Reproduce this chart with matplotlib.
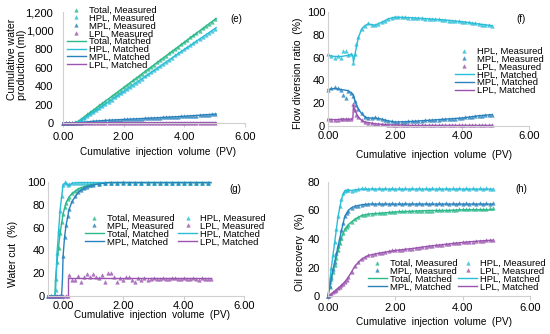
import matplotlib
matplotlib.use('Agg')
import matplotlib.pyplot as plt
from matplotlib.lines import Line2D

plt.rcParams['font.family'] = ['Liberation Sans', 'DejaVu Sans']

# colours of the four series
C_TOT = '#2bb88a'
C_HPL = '#29bdd8'
C_MPL = '#2a82bd'
C_LPL = '#9a55ae'

X_LABEL = 'Cumulative  injection  volume  (PV)'
X_TICKS = [0, 2, 4, 6]
X_TICKLABELS = ['0.00', '2.00', '4.00', '6.00']

# (e) cumulative water production, ml
pv_e = [0.0, 0.1, 0.2, 0.3, 0.4, 0.5, 0.6, 0.7, 0.8, 0.9, 1.0, 1.1, 1.2, 1.3, 1.4, 1.5, 1.6,
        1.7, 1.8, 1.9, 2.0, 2.1, 2.2, 2.3, 2.4, 2.5, 2.6, 2.7, 2.8, 2.9, 3.0, 3.1, 3.2, 3.3,
        3.4, 3.5, 3.6, 3.7, 3.8, 3.9, 4.0, 4.1, 4.2, 4.3, 4.4, 4.5, 4.6, 4.7, 4.8, 4.9, 5.0]
tot_e = [0, 1, 2, 3, 6, 20, 44, 69, 94, 118, 142, 167, 191, 215, 240, 264, 289, 313, 337,
         362, 386, 411, 435, 460, 484, 509, 533, 558, 582, 607, 631, 656, 680, 705, 729,
         754, 778, 803, 827, 852, 876, 901, 925, 950, 974, 999, 1023, 1048, 1072, 1097, 1121]
hpl_e = [0, 0, 0, 0, 2, 15, 36, 57, 78, 99, 120, 143, 164, 186, 208, 230, 253, 276, 298,
         321, 344, 367, 389, 413, 435, 459, 481, 504, 526, 550, 572, 594, 616, 641, 662,
         685, 707, 730, 753, 776, 798, 821, 843, 866, 888, 911, 933, 956, 977, 1000, 1021]
mpl_e = [0, 1, 1, 1, 2, 3, 5, 9, 13, 16, 19, 21, 24, 26, 28, 30, 32, 33, 35, 37, 38, 40,
         42, 43, 45, 46, 48, 50, 52, 53, 55, 57, 59, 60, 62, 64, 66, 68, 69, 71, 73, 75, 77,
         79, 81, 83, 85, 87, 90, 92, 95]
lpl_e = [0, 1, 1, 2, 2, 2, 3, 3, 3, 3, 3, 3, 3, 3, 4, 4, 4, 4, 4, 4, 4, 4, 4, 4, 4, 4, 4,
         4, 4, 4, 4, 4, 4, 4, 5, 5, 5, 5, 5, 5, 5, 5, 5, 5, 5, 5, 5, 5, 5, 5, 5]
pv_e_fit = [0.0, 0.3, 0.4, 0.5, 0.6, 0.8, 1.0, 1.5, 2.0, 3.0, 4.0, 5.05]
tot_e_fit = [0, 2, 6, 18, 42, 92, 140, 262, 384, 629, 874, 1130]
hpl_e_fit = [0, 0, 2, 14, 35, 77, 119, 228, 342, 570, 796, 1030]
mpl_e_fit = [0, 1, 2, 3, 5, 13, 19, 30, 38, 55, 73, 97]
lpl_e_fit = [0, 1, 2, 2, 3, 3, 3, 4, 4, 4, 5, 5]

# (f) flow diversion ratio, %
pv_f = [0.0, 0.1, 0.2, 0.3, 0.4, 0.45, 0.55, 0.6, 0.7, 0.75, 0.8, 0.85, 0.9, 1.0, 1.1, 1.2,
        1.3, 1.4, 1.5, 1.6, 1.7, 1.8, 1.9, 2.0, 2.1, 2.2, 2.3, 2.4, 2.5, 2.6, 2.7, 2.8, 2.9,
        3.0, 3.1, 3.2, 3.3, 3.4, 3.5, 3.6, 3.7, 3.8, 3.9, 4.0, 4.1, 4.2, 4.3, 4.4, 4.5, 4.6,
        4.7, 4.8, 4.9]
hpl_f = [63, 61, 60, 61, 60, 66, 66, 62, 63, 55, 63, 72, 78, 85, 88, 90, 89, 88.5, 89.5,
         91, 92.5, 94, 95, 96, 95.5, 95.5, 95.5, 95, 95, 95, 94.5, 94.5, 94, 94, 94, 93.5,
         93.5, 93, 93, 92.5, 92.5, 92, 92, 91.5, 91, 91, 90.5, 90, 89.5, 89, 89, 88.5, 88]
mpl_f = [32, 33, 34, 33, 32, 27, 25, 31, 29, 26, 22, 18, 15, 11, 8, 7, 7, 7.5, 7, 6, 5,
         4.5, 4, 3.5, 3.5, 3.5, 3.5, 4, 4, 4, 4.5, 4.5, 5, 5, 5, 5.5, 5.5, 6, 6, 6, 6.5,
         6.5, 7, 7, 7.5, 8, 8, 8.5, 9, 9, 9.5, 10, 10]
lpl_f = [6, 5, 5, 5.5, 6, 6, 6, 6, 6, 19, 14, 10, 8, 5, 3.5, 3, 2.5, 2, 2, 1.5, 1.5, 1, 1,
         1, 1, 0.5, 0.5, 0.5, 0.5, 0.5, 0.5, 0.5, 0.5, 0.5, 1, 0.5, 0.5, 0.5, 1, 0.5, 0.5,
         0.5, 0.5, 1, 0.5, 0.5, 0.5, 0.5, 0.5, 0.5, 0.5, 0.5, 0.5]
pv_f_fit = [0.0, 0.2, 0.4, 0.6, 0.7, 0.74, 0.76, 0.8, 0.9, 1.0, 1.1, 1.2, 1.4, 1.6, 1.8,
            2.0, 2.5, 3.0, 3.5, 4.0, 4.5, 4.9]
hpl_f_fit = [62, 61, 61, 62, 63, 62, 56, 62, 77, 85, 88, 89.5, 88.5, 91, 94, 95.5, 95, 94,
             93, 91.5, 89.5, 88]
mpl_f_fit = [32, 33, 32, 31, 29, 28, 27, 22, 15, 11, 8, 7, 7, 6, 4.5, 3.5, 4, 5, 6, 7, 9, 10]
lpl_f_fit = [6, 5.5, 6, 6, 6, 6, 18, 14, 8, 5, 3.5, 3, 2, 1.5, 1, 1, 0.5, 0.5, 0.5, 0.5,
             0.5, 0.5]

# (g) water cut, %  (x read against the printed tick labels)
pv_g = [-0.5, -0.4, -0.3, -0.25, -0.2, -0.15, -0.1, -0.05, 0.0, 0.05, 0.1, 0.15, 0.2, 0.3,
        0.4, 0.5, 0.6, 0.7, 0.8, 0.9, 1.0, 1.2, 1.4, 1.6, 1.8, 2.0, 2.2, 2.4, 2.6, 2.8, 3.0,
        3.2, 3.4, 3.6, 3.8, 4.0, 4.2, 4.4, 4.6, 4.8]
tot_g = [0, 0, 0, 15, 30, 42, 55, 65, 72, 78, 82, 85, 87, 90, 92, 94, 95, 96, 97, 97.5, 98,
         98.5, 99, 99.5, 99.5, 100, 99.5, 99.5, 99.5, 99.5, 99.5, 99.5, 99.5, 99.5, 99.5,
         99.5, 99.5, 99.5, 99.5, 99.5]
hpl_g = [0, 0, 0, 5, 38, 58, 75, 88, 97, 100, 99, 97, 98, 99, 99.5, 99.5, 99.5, 99.5, 99.5,
         99.5, 99.5, 99.5, 99.5, 99.5, 99.5, 99.5, 99.5, 99.5, 99.5, 99.5, 99.5, 99.5, 99.5,
         99.5, 99.5, 99.5, 99.5, 99.5, 99.5, 99.5]
mpl_g = [0, 0, 0, 0, 0, 0, 0, 0, 35, 52, 62, 70, 76, 83, 88, 91, 93, 95, 96, 97, 97.5, 98.5,
         99, 99.5, 99.5, 99.5, 99.5, 99.5, 99.5, 99.5, 99.5, 99.5, 99.5, 99.5, 99.5, 99.5,
         99.5, 99.5, 99.5, 99.5]
pv_g_lpl = [-0.5, -0.4, -0.3, -0.2, -0.1, 0.0, 0.1, 0.15, 0.2, 0.3, 0.4, 0.5, 0.6, 0.7,
            0.8, 0.9, 1.0, 1.1, 1.2, 1.3, 1.4, 1.5, 1.6, 1.7, 1.8, 1.9, 2.0, 2.1, 2.2, 2.3,
            2.4, 2.5, 2.6, 2.7, 2.8, 2.9, 3.0, 3.1, 3.2, 3.3, 3.4, 3.5, 3.6, 3.7, 3.8, 3.9,
            4.0, 4.1, 4.2, 4.3, 4.4, 4.5, 4.6, 4.7, 4.8, 4.9]
lpl_g = [0, 0, 0, 0, 0, 0, 0, 0, 18, 14, 14, 17.5, 12, 17, 19, 17, 19, 17, 15.5, 18, 12.5,
         20, 20, 17, 12.5, 15.5, 14, 17, 17, 14, 12.5, 15.5, 14, 15.5, 14, 15, 16, 14.5,
         15, 16, 15, 14.5, 15.5, 16, 15, 14.5, 16, 15, 14.5, 15.5, 15, 14, 15.5, 15, 14.5, 15]
pv_g_fit = [-0.5, -0.27, -0.25, -0.2, -0.1, 0.0, 0.1, 0.2, 0.3, 0.5, 0.7, 1.0, 1.5, 2.0, 4.9]
tot_g_fit = [0, 0, 15, 30, 55, 72, 82, 87, 90, 94, 96, 98, 99.5, 99.5, 99.5]
hpl_g_fit = [0, 0, 4, 38, 75, 98, 99, 97, 99, 99.5, 99.5, 99.5, 99.5, 99.5, 99.5]
pv_g_mfit = [-0.5, -0.05, -0.02, 0.0, 0.05, 0.1, 0.2, 0.3, 0.5, 0.7, 1.0, 1.5, 2.0, 4.9]
mpl_g_fit = [0, 0, 15, 35, 52, 62, 76, 83, 91, 95, 97.5, 99.5, 99.5, 99.5]
pv_g_lfit = [-0.5, 0.17, 0.17, 4.9]
lpl_g_fit = [0, 0, 15.5, 15.5]

# (h) oil recovery, %
pv_h = [0.0, 0.05, 0.1, 0.15, 0.2, 0.25, 0.3, 0.35, 0.4, 0.45, 0.5, 0.55, 0.6, 0.7, 0.8,
        0.9, 1.0, 1.1, 1.2, 1.3, 1.4, 1.5, 1.6, 1.7, 1.8, 1.9, 2.0, 2.1, 2.2, 2.3, 2.4, 2.5,
        2.6, 2.7, 2.8, 2.9, 3.0, 3.1, 3.2, 3.3, 3.4, 3.5, 3.6, 3.7, 3.8, 3.9, 4.0, 4.1, 4.2,
        4.3, 4.4, 4.5, 4.6, 4.7, 4.8, 4.9]
hpl_h = [0, 10, 20, 29, 38, 47, 56, 63, 68, 72, 74, 74.5, 74.5, 74, 74.5, 75, 75.5, 75.5,
         75, 75.5, 75, 75.5, 75, 75.5, 75, 75.5, 75, 75.5, 75, 75.5, 75, 75.5, 75, 75.5, 75,
         75.5, 75, 75.5, 75, 75.5, 75, 75.5, 75, 75.5, 75, 75.5, 75, 75.5, 75, 75.5, 75,
         75.5, 75, 75.5, 75, 75]
mpl_h = [0, 7, 13, 19, 24, 30, 35, 41, 46, 51, 56, 58, 60, 62, 63, 63.5, 64, 64.5, 64.5,
         65, 64.5, 65, 64.5, 65, 64.5, 65, 64.5, 65, 64.5, 65, 64.5, 65, 64.5, 65, 64.5, 65,
         64.5, 65, 64.5, 65, 64.5, 65, 64.5, 65, 64.5, 65, 64.5, 65, 64.5, 65, 64.5, 65,
         64.5, 65, 64.5, 65]
tot_h = [0, 6, 12, 17, 22, 27, 32, 37, 41, 44, 47, 48.5, 50, 52, 54, 55.5, 56.5, 57, 57.5,
         57.5, 58, 58, 58.5, 58.5, 59, 59, 59, 59.5, 59.5, 59.5, 59.5, 59.5, 60, 60, 60, 60,
         60, 60, 60.5, 60.5, 60.5, 60.5, 60.5, 60.5, 60.5, 61, 61, 61, 61, 61, 61, 61, 61,
         61, 61.5, 61.5]
lpl_h = [0, 0.5, 1.5, 2.5, 3.5, 4.5, 5.5, 6.5, 7.5, 8.5, 10, 11.5, 13, 17, 21, 24, 26, 27.5,
         28.5, 29, 29.5, 30, 30.5, 31, 31.5, 32, 32, 32.3, 32.5, 32.8, 33, 33.3, 33.6, 34,
         34.3, 34.6, 35, 35.2, 35.5, 35.8, 36, 36.3, 36.6, 36.9, 37.1, 37.4, 37.6, 37.8, 38,
         38.2, 38.4, 38.6, 38.8, 39, 39.2, 39.4]
pv_h_fit = [0.0, 0.1, 0.2, 0.3, 0.4, 0.5, 0.6, 0.7, 0.8, 1.0, 1.2, 1.5, 2.0, 2.5, 3.0, 3.5,
            4.0, 4.5, 4.9]
hpl_h_fit = [0, 20, 38, 56, 68, 74, 74.5, 74, 74.5, 75, 75, 75, 75, 75, 75, 75, 75, 75, 75]
mpl_h_fit = [0, 13, 24, 35, 46, 56, 60, 62, 63, 64, 64.5, 64.5, 64.5, 64.5, 64.5, 64.5,
             64.5, 64.5, 64.5]
tot_h_fit = [0, 12, 22, 32, 41, 47, 50, 52, 54, 56.5, 57.5, 58, 59, 59.5, 60, 60, 60.5,
             60.5, 60.5]
lpl_h_fit = [0, 1.5, 3.5, 5.5, 7.5, 10, 13, 17, 21, 26, 28.5, 30, 32, 33.3, 35, 36.3, 37.6,
             38.6, 39.2]

fig = plt.figure(figsize=(5.5, 3.34), dpi=100)
W, H = 550.0, 334.0


def axes_px(l, t, r, b):
    return fig.add_axes([l / W, 1 - b / H, (r - l) / W, (b - t) / H])


def text_px(x, y, s, **kw):
    fig.text(x / W, 1 - y / H, s, ha='center', va='center', **kw)


def measured(ax, x, y, c):
    ax.plot(x, y, ls='none', marker='^', ms=2.6, mfc=c, mec=c, mew=0.3, alpha=0.8,
            clip_on=False)


def matched(ax, x, y, c):
    ax.plot(x, y, color=c, lw=1.0, clip_on=False)


def style(ax, ylim, yticks, yticklabels, xpad, ypad, xlim=(0, 6)):
    ax.set_xlim(*xlim)
    ax.set_ylim(*ylim)
    ax.set_xticks(X_TICKS)
    ax.set_xticklabels(X_TICKLABELS)
    ax.set_yticks(yticks)
    ax.set_yticklabels(yticklabels)
    for s in ['top', 'right']:
        ax.spines[s].set_visible(False)
    for s in ['left', 'bottom']:
        ax.spines[s].set_color('#d0d0d0')
        ax.spines[s].set_linewidth(0.8)
    ax.tick_params(axis='x', length=3, width=0.8, color='#d0d0d0', labelsize=8, pad=xpad)
    ax.tick_params(axis='y', length=0, labelsize=8, pad=ypad)
    ax.patch.set_alpha(0)


def handle_m(c):
    return Line2D([], [], ls='none', marker='^', ms=2.6, mfc=c, mec=c, mew=0.3, alpha=0.8)


def handle_l(c):
    return Line2D([], [], color=c, lw=1.0)


leg_kw = dict(frameon=False, fontsize=6.8, handlelength=2.0, handletextpad=0.3,
              borderpad=0, borderaxespad=0)

names = ['Total', 'HPL', 'MPL', 'LPL']
cols = [C_TOT, C_HPL, C_MPL, C_LPL]

# (e)
ax = axes_px(63, 12, 245, 123)
for y, c in [(tot_e, C_TOT), (hpl_e, C_HPL), (mpl_e, C_MPL), (lpl_e, C_LPL)]:
    measured(ax, pv_e, y, c)
for y, c in [(tot_e_fit, C_TOT), (hpl_e_fit, C_HPL), (mpl_e_fit, C_MPL), (lpl_e_fit, C_LPL)]:
    matched(ax, pv_e_fit, y, c)
style(ax, (0, 1200), [0, 200, 400, 600, 800, 1000, 1200],
      ['0', '200', '400', '600', '800', '1,000', '1,200'], xpad=3.5, ypad=7)
text_px(17, 59, 'Cumulative water\nproduction (ml)', fontsize=7.6, rotation=90,
        linespacing=1.05, multialignment='left')
text_px(158, 152, X_LABEL, fontsize=7.2)
ax.text(0.985, 0.985, '(e)', transform=ax.transAxes, ha='right', va='top', fontsize=7)
hs = [handle_m(c) for c in cols] + [handle_l(c) for c in cols]
ls = [n + ', Measured' for n in names] + [n + ', Matched' for n in names]
ax.legend(hs, ls, loc='upper left', bbox_to_anchor=(67 / W, 1 - 6 / H),
          bbox_transform=fig.transFigure, labelspacing=-0.13, **leg_kw)

# (f)
ax = axes_px(328, 12, 529, 126)
for y, c in [(hpl_f, C_HPL), (mpl_f, C_MPL), (lpl_f, C_LPL)]:
    measured(ax, pv_f, y, c)
for y, c in [(hpl_f_fit, C_HPL), (mpl_f_fit, C_MPL), (lpl_f_fit, C_LPL)]:
    matched(ax, pv_f_fit, y, c)
style(ax, (0, 100), [0, 20, 40, 60, 80, 100], ['0', '20', '40', '60', '80', '100'],
      xpad=0.5, ypad=2)
text_px(298, 73, 'Flow diversion ratio  (%)', fontsize=7.5, rotation=90)
text_px(434, 155, X_LABEL, fontsize=7.2)
ax.text(0.985, 0.985, '(f)', transform=ax.transAxes, ha='right', va='top', fontsize=7)
cols3 = [C_HPL, C_MPL, C_LPL]
hs = [handle_m(c) for c in cols3] + [handle_l(c) for c in cols3]
ls = [n + ', Measured' for n in names[1:]] + [n + ', Matched' for n in names[1:]]
ax.legend(hs, ls, loc='upper left', bbox_to_anchor=(455 / W, 1 - 47 / H),
          bbox_transform=fig.transFigure, labelspacing=-0.13, **leg_kw)

# (g)
ax = axes_px(48, 182, 244, 296)
measured(ax, pv_g, tot_g, C_TOT)
measured(ax, pv_g, hpl_g, C_HPL)
measured(ax, pv_g, mpl_g, C_MPL)
measured(ax, pv_g_lpl, lpl_g, C_LPL)
matched(ax, pv_g_fit, tot_g_fit, C_TOT)
matched(ax, pv_g_fit, hpl_g_fit, C_HPL)
matched(ax, pv_g_mfit, mpl_g_fit, C_MPL)
matched(ax, pv_g_lfit, lpl_g_fit, C_LPL)
style(ax, (0, 100), [0, 20, 40, 60, 80, 100], ['0', '20', '40', '60', '80', '100'],
      xpad=0.5, ypad=2, xlim=(-0.5, 6))
text_px(13, 254, 'Water cut  (%)', fontsize=7.5, rotation=90)
text_px(152, 315, X_LABEL, fontsize=7.2)
ax.text(0.985, 0.985, '(g)', transform=ax.transAxes, ha='right', va='top', fontsize=7)
# two columns, filled column by column
hs = [handle_m(cols[i]) for i in [0, 2]] + [handle_l(cols[i]) for i in [0, 2]] + \
     [handle_m(cols[i]) for i in [1, 3]] + [handle_l(cols[i]) for i in [1, 3]]
ls = [names[i] + ', Measured' for i in [0, 2]] + [names[i] + ', Matched' for i in [0, 2]] + \
     [names[i] + ', Measured' for i in [1, 3]] + [names[i] + ', Matched' for i in [1, 3]]
ax.legend(hs, ls, loc='upper left', bbox_to_anchor=(85 / W, 1 - 214 / H),
          bbox_transform=fig.transFigure, ncol=2, columnspacing=0.4,
          labelspacing=-0.13, **leg_kw)

# (h)
ax = axes_px(328, 182, 530, 296)
for y, c in [(tot_h, C_TOT), (hpl_h, C_HPL), (mpl_h, C_MPL), (lpl_h, C_LPL)]:
    measured(ax, pv_h, y, c)
for y, c in [(tot_h_fit, C_TOT), (hpl_h_fit, C_HPL), (mpl_h_fit, C_MPL), (lpl_h_fit, C_LPL)]:
    matched(ax, pv_h_fit, y, c)
style(ax, (0, 80), [0, 20, 40, 60, 80], ['0', '20', '40', '60', '80'], xpad=2, ypad=6)
text_px(300, 252, 'Oil recovery  (%)', fontsize=7.5, rotation=90)
text_px(434, 322, X_LABEL, fontsize=7.2)
ax.text(0.985, 0.985, '(h)', transform=ax.transAxes, ha='right', va='top', fontsize=7)
ax.legend(hs, ls, loc='upper left', bbox_to_anchor=(368 / W, 1 - 259 / H),
          bbox_transform=fig.transFigure, ncol=2, columnspacing=0.1,
          labelspacing=-0.13, **leg_kw)

fig.savefig('out.png', dpi=100)
